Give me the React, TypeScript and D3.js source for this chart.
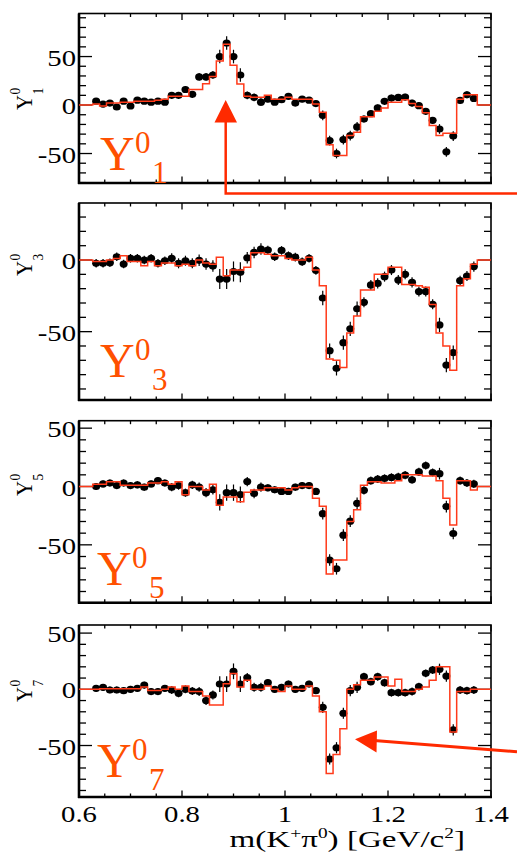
import React from "react";
import * as d3 from "d3";

// ---------- data ----------
const MASS = [
  0.6333, 0.6467, 0.66, 0.6733, 0.6867, 0.7, 0.7133, 0.7267, 0.74, 0.7533,
  0.7667, 0.78, 0.7933, 0.8067, 0.82, 0.8333, 0.8467, 0.86, 0.8733, 0.8867,
  0.9, 0.9133, 0.9267, 0.94, 0.9533, 0.9667, 0.98, 0.9933, 1.0067, 1.02,
  1.0333, 1.0467, 1.06, 1.0733, 1.0867, 1.1, 1.1133, 1.1267, 1.14, 1.1533,
  1.1667, 1.18, 1.1933, 1.2067, 1.22, 1.2333, 1.2467, 1.26, 1.2733, 1.2867,
  1.3, 1.3133, 1.3267, 1.34, 1.3533, 1.3667,
];
const BIN_WIDTH = 0.01333;

const Y1_DATA = [
  4, 1, 2, -2, 4, -1, 5, 4, 3, 4, 3, 10, 10, 16, 11, 29, 29, 31, 50, 64,
  50, 31, 10, 8, 3, 6, 3, 5.5, 9, 2, 6, 5, 1.5, -10.6, -36.6, -50, -35.6, -31.5, -22.6, -14.4,
  -8.9, -3, 3.8, 7.2, 7.9, 8.2, 2, -0.7, -6.5, -15.8, -24.7, -48.3, -32, 4.8, 10.6, 6.8,
];
const Y1_FIT = [
  1, -1, 2, 2, 3, 3, 4, 4, 4, 5, 6, 9, 9, 9, 16, 16, 22, 29.5, 45.5, 62.7,
  41, 21.6, 9, 8, 8, 10, 6, 6, 8, 6, 6, 6, 1, -7.5, -41, -52, -52, -31.5, -28, -12,
  -12, -6.5, -3, 3, 3, 5.5, 1.5, -1.5, -8, -21, -31.5, -29, -29, 6, 10.6, 10.6,
];

const Y3_DATA = [
  -2.3, -2.3, -1.9, 2.3, -2.8, 1.2, 1.2, 0, 1.2, -2.3, -0.5, 1.2, -2.3, -0.5, -2.3, -0.2, -2.8, -4.2, -13.3, -13.3,
  -8, -8.6, 1.6, 5.3, 7.7, 7, 2.3, 6.7, 3, 2, -1.2, 1.2, -7.2, -26.5, -63.3, -75.6, -57.7, -48, -34, -29.5,
  -17.4, -16.3, -11.6, -7, -14, -10, -15.6, -22, -22, -30.9, -45.3, -73.3, -64.6, -14.4, -11.2, -4.6,
];
const Y3_FIT = [
  -1, -1, 0, 1, 3, -1, -1, -4, -1, -4, -2, -2, -4, -3, -4, 0, -2, -3, 2, -11,
  -7, -7, -5, 5, 5, 4, 3, 3, 1, 0, 0, 2, -7, -18, -69, -70, -75, -51, -39, -21,
  -21, -10, -10, -5, -5, -17, -17, -18, -19, -31, -51, -60, -77, -18, -13, -3,
];

const Y5_DATA = [
  0, 2.2, 3, 0.8, 3, 0.8, 1.4, -0.6, 2.2, 5, 3, -0.6, 0.8, -5.3, 1.4, -0.6, -5.3, -2.8, -13.6, -5.3,
  -5.3, -6.9, 4.2, -6, -0.6, -1.1, -2.8, -4.2, -4.2, -0.6, 0.8, 0.8, -4.2, -23.3, -63, -70.5, -41.7, -29.7, -14.4, -3.3,
  5, 6.4, 6.9, 7.8, 8.3, 9.7, 5.8, 12.5, 18, 12, 11, -17.2, -40.3, 5, 3, 2.2,
];
const Y5_FIT = [
  2, 2, 4, 4, 1, 1, 1, 1, 3, 3, 4, 2, 4, -7, 0, 0, -3, 2, -16, -9,
  -9, -13, -5, -3, -3, -1, -1, -1, -3, -1, 0, 0, -10, -17, -75, -63, -63, -30, -20, 1,
  4, 4, 3, 3, 5, 10, 10, 10, 9, 9, 5, -10, -33, 5, 5, -3,
];

const Y7_DATA = [
  0.9, 1.8, -0.6, -0.6, -1.2, 0, 0.9, 3.8, -2, -2, 0.9, -0.6, -3.6, 0, -1.5, -2, -10, -5, 4.7, 4.7,
  16, 4.7, 10.4, 1.8, 1.8, 5.9, 0, 1.8, 4.7, 0, 0.9, 4.7, -1.2, -16, -62, -52, -21.3, -1.2, 1.8, 11.2,
  6.8, 11.2, 5.9, -3, -3, -3, -2, 2.4, 14.2, 17.2, 17.8, 11.8, -36, -0.6, -1.2, -0.6,
];
const Y7_FIT = [
  0, 0.5, 0.5, 0.5, 0.5, 0.5, 0.5, 2, -1, -1, 0, 2, 0, 3, -2, -2, -6, -14, -14, 5,
  14, 2, 8, 0, 0, 3, 0, -2, 3, 0, 0, 3, -6, -20, -75, -58, -35, 0, 4, 8,
  8, 11, 11, 3, 9, -2, -2, 0, 2, 8, 20, 20, -38, -2, -2, 0,
];

const ERRORS = [
  3, 3, 3, 3, 3, 3, 3, 3, 3, 3, 3, 3.5, 3.5, 3.5, 3.5, 4, 4, 4, 7, 7,
  7, 7, 4, 4, 4, 3, 3, 3, 3, 3, 3, 3, 3, 5, 5, 5, 5, 5, 5, 3.5,
  3.5, 3.5, 3.5, 3.5, 3.5, 3.5, 3.5, 3.5, 3.5, 3.5, 5, 5, 5, 3.5, 3.5, 3.5,
];

const SERIES_DATA = [Y1_DATA, Y3_DATA, Y5_DATA, Y7_DATA];
const SERIES_FIT = [Y1_FIT, Y3_FIT, Y5_FIT, Y7_FIT];
const PANEL_INDEX = ["1", "3", "5", "7"];
const Y_TICK_VALUES = [[50, 0, -50], [0, -50], [50, 0, -50], [50, 0, -50]];
const X_TICK_VALUES = [0.6, 0.8, 1, 1.2, 1.4];
const X_TICK_LABELS = ["0.6", "0.8", "1", "1.2", "1.4"];
const X_DOMAIN = [0.6, 1.4];

// ---------- layout ----------
const W = 517;
const H = 854;
const FRAME_LEFT = 79;
const FRAME_RIGHT = 491;
const PANELS = [
  { top: 13.5, bottom: 183, domain: [-80.4, 94.4], labelY: 97, bigX: 100, bigY: 170 },
  { top: 203, bottom: 400, domain: [-97.7, 39.8], labelY: 263, bigX: 100, bigY: 377 },
  { top: 420.7, bottom: 602.7, domain: [-99.6, 56.4], labelY: 483, bigX: 97, bigY: 585 },
  { top: 625, bottom: 797, domain: [-95.8, 57.2], labelY: 689, bigX: 97, bigY: 777 },
];
const SERIF = "Liberation Serif, Times New Roman, serif";
const FIT_COLOR = "#ff3a1a";
const LABEL_COLOR = "#ff5000";
const ARROW_COLOR = "#ff2a00";
const STRETCH = 1.25;
const TITLE_STRETCH = 1.38;

const x = d3.scaleLinear().domain(X_DOMAIN).range([FRAME_LEFT, FRAME_RIGHT]);

function Panel({ idx }: { idx: number }) {
  const p = PANELS[idx];
  const y = d3.scaleLinear().domain(p.domain).range([p.bottom, p.top]);
  const data = SERIES_DATA[idx];
  const fit = SERIES_FIT[idx];

  const pts: [number, number][] = [[X_DOMAIN[0], 0]];
  MASS.forEach((m, i) => pts.push([m - BIN_WIDTH / 2, fit[i]]));
  pts.push([MASS[MASS.length - 1] + BIN_WIDTH / 2, 0]);
  pts.push([X_DOMAIN[1], 0]);
  const stepLine = d3
    .line<[number, number]>()
    .x((d) => x(d[0]))
    .y((d) => y(d[1]))
    .curve(d3.curveStepAfter);

  const minorY = d3.range(Math.ceil(p.domain[0] / 10) * 10, p.domain[1], 10);
  const minorX = d3.range(0.6, 1.4001, 0.05);

  return (
    <g>
      {minorY.map((v) => {
        const major = v % 50 === 0;
        const len = major ? 13 : 7;
        return (
          <g key={"yt" + v} stroke="#000" strokeWidth={1.3}>
            <line x1={FRAME_LEFT} x2={FRAME_LEFT + len} y1={y(v)} y2={y(v)} />
            <line x1={FRAME_RIGHT} x2={FRAME_RIGHT - len} y1={y(v)} y2={y(v)} />
          </g>
        );
      })}
      {minorX.map((v, i) => {
        const major = X_TICK_VALUES.some((m) => Math.abs(m - v) < 1e-6);
        const len = major ? 6.5 : 3.5;
        return (
          <g key={"xt" + i} stroke="#000" strokeWidth={1.3}>
            <line x1={x(v)} x2={x(v)} y1={p.bottom} y2={p.bottom - len} />
            <line x1={x(v)} x2={x(v)} y1={p.top} y2={p.top + len} />
          </g>
        );
      })}
      <rect
        x={FRAME_LEFT}
        y={p.top}
        width={FRAME_RIGHT - FRAME_LEFT}
        height={p.bottom - p.top}
        fill="none"
        stroke="#000"
        strokeWidth={1.6}
      />
      <line x1={FRAME_LEFT} x2={FRAME_LEFT} y1={p.top} y2={p.bottom + 1} stroke="#000" strokeWidth={2.6} />
      <line x1={FRAME_LEFT - 1} x2={FRAME_RIGHT + 1} y1={p.bottom} y2={p.bottom} stroke="#000" strokeWidth={2.6} />

      {Y_TICK_VALUES[idx].map((v) => (
        <text
          key={"yl" + v}
          transform={`translate(${FRAME_LEFT - 3},${y(v) + 9}) scale(${STRETCH},1)`}
          textAnchor="end"
          fontFamily={SERIF}
          fontSize={23}
          fill="#000"
        >
          {String(v)}
        </text>
      ))}

      <g transform={`translate(32,${p.labelY}) scale(1.1,1) rotate(-90)`} fontFamily={SERIF} fill="#000">
        <text x={-13} y={0} fontSize={21}>Y</text>
        <text x={2.5} y={-11} fontSize={13.5}>0</text>
        <text x={2.5} y={10} fontSize={13.5}>{PANEL_INDEX[idx]}</text>
      </g>

      <g>
        {MASS.map((m, i) => {
          const cx = x(m);
          const cy = y(data[i]);
          const e = ERRORS[i];
          return (
            <g key={"pt" + i}>
              <line x1={cx} x2={cx} y1={y(data[i] + e)} y2={y(data[i] - e)} stroke="#000" strokeWidth={1.2} />
              <line
                x1={x(m - BIN_WIDTH / 2)}
                x2={x(m + BIN_WIDTH / 2)}
                y1={cy}
                y2={cy}
                stroke="#000"
                strokeWidth={1.2}
              />
              <ellipse cx={cx} cy={cy} rx={4} ry={3.6} fill="#000" />
            </g>
          );
        })}
      </g>

      <path d={stepLine(pts) || ""} fill="none" stroke={FIT_COLOR} strokeWidth={1.5} />

      <g fontFamily={SERIF} fill={LABEL_COLOR}>
        <text x={p.bigX} y={p.bigY} fontSize={48}>Y</text>
        <text x={p.bigX + 35} y={p.bigY - 17} fontSize={31}>0</text>
        <text x={p.bigX + 52} y={p.bigY + 13} fontSize={31}>{PANEL_INDEX[idx]}</text>
      </g>
    </g>
  );
}

export default function App() {
  const last = PANELS[PANELS.length - 1];
  return (
    <svg
      width={W}
      height={H}
      viewBox={`0 0 ${W} ${H}`}
      style={{ position: "absolute", left: 0, top: 0, background: "#fff" }}
    >
      <rect x={0} y={0} width={W} height={H} fill="#fff" />
      {PANELS.map((_, i) => (
        <Panel key={i} idx={i} />
      ))}

      {X_TICK_VALUES.map((v, i) => (
        <text
          key={"xl" + i}
          transform={`translate(${x(v)},${last.bottom + 25}) scale(${STRETCH},1)`}
          textAnchor="middle"
          fontFamily={SERIF}
          fontSize={23}
          fill="#000"
        >
          {X_TICK_LABELS[i]}
        </text>
      ))}

      <text
        transform={`translate(465,847) scale(${TITLE_STRETCH},1)`}
        textAnchor="end"
        fontFamily={SERIF}
        fontSize={24}
        fill="#000"
      >
        m(K
        <tspan fontSize={14} dy={-9}>+</tspan>
        <tspan dy={9}>π</tspan>
        <tspan fontSize={14} dy={-9}>0</tspan>
        <tspan dy={9}>) [GeV/c</tspan>
        <tspan fontSize={14} dy={-9}>2</tspan>
        <tspan dy={9}>]</tspan>
      </text>

      <path d="M517,193.5 H225.7 V120" fill="none" stroke={ARROW_COLOR} strokeWidth={2.5} />
      <polygon points="225.7,100 214.5,122.5 237,122.5" fill={ARROW_COLOR} />

      <line x1={517} y1={751.7} x2={374} y2={740.5} stroke={ARROW_COLOR} strokeWidth={3} />
      <polygon points="355,739.3 377,730.5 376.5,752.5" fill={ARROW_COLOR} />
    </svg>
  );
}
